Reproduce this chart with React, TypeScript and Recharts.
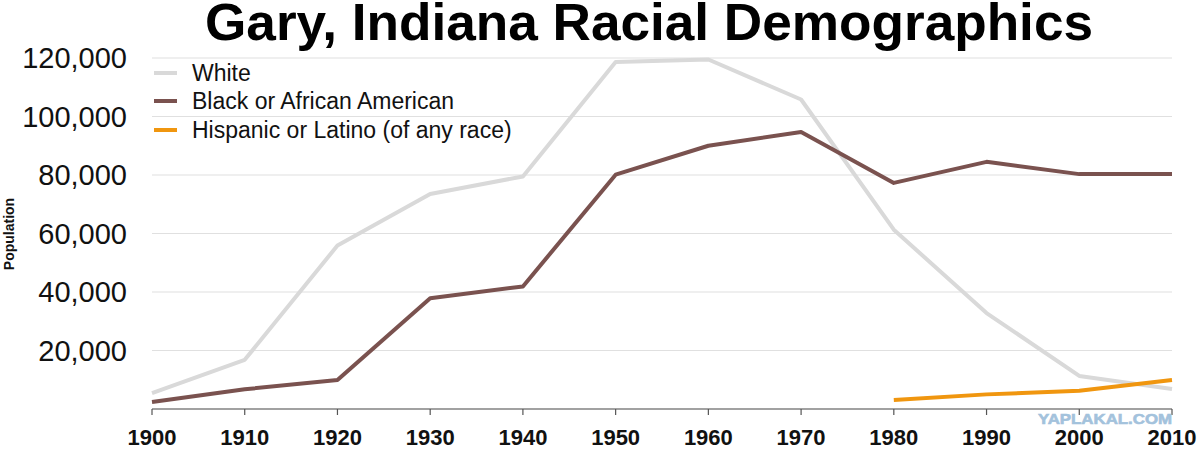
import React from 'react';
import { LineChart, Line, XAxis, YAxis, CartesianGrid } from 'recharts';

const years = [1900, 1910, 1920, 1930, 1940, 1950, 1960, 1970, 1980, 1990, 2000, 2010];
const white = [5400, 16800, 55900, 73500, 79500, 118600, 119500, 105800, 61300, 32800, 11300, 6850];
const black = [2400, 6750, 9900, 37900, 41900, 80100, 90000, 94700, 77300, 84500, 80300, 80300];
const hispanic = [null, null, null, null, null, null, null, null, 3100, 5000, 6250, 9900];
const yTicks = [20000, 40000, 60000, 80000, 100000, 120000];
const xTicks = years;

const seriesNames = ['White', 'Black or African American', 'Hispanic or Latino (of any race)'];
const seriesColors = ['#d9d9d9', '#7a524f', '#f0960f'];

const data = years.map((y, i) => ({
  year: y,
  white: white[i],
  black: black[i],
  hispanic: hispanic[i],
}));

const FONT = '"Liberation Sans", Arial, Helvetica, sans-serif';

const YTick = (props: any) => {
  const { x, y, payload } = props;
  return (
    <text x={x} y={y} dy="0.36em" textAnchor="end" fontSize={29} fontFamily={FONT} fill="#111">
      {payload.value.toLocaleString('en-US')}
    </text>
  );
};

const XTick = (props: any) => {
  const { x, y, payload } = props;
  return (
    <text x={x} y={y} dy={28} textAnchor="middle" fontSize={22} fontWeight="bold" fontFamily={FONT} fill="#111">
      {payload.value}
    </text>
  );
};

const LegendBox = () => (
  <div style={{ position: 'absolute', left: 154, top: 59, fontFamily: FONT, fontSize: 23, color: '#111', pointerEvents: 'none' }}>
    {seriesNames.map((n, i) => (
      <div key={n} style={{ display: 'flex', alignItems: 'center', height: 28.3, lineHeight: '28.3px', whiteSpace: 'nowrap' }}>
        <span style={{ display: 'inline-block', width: 23, height: 4, background: seriesColors[i], marginRight: 15 }} />
        <span>{n}</span>
      </div>
    ))}
  </div>
);

export default function App() {
  return (
    <div style={{ position: 'fixed', left: 0, top: 0, width: 1200, height: 449, background: '#fff' }}>
      <LineChart width={1200} height={449} data={data} margin={{ top: 58, right: 28, left: 0, bottom: 0 }}>
        <CartesianGrid horizontal vertical={false} stroke="#e0e0e0" strokeWidth={1.2} />
        <XAxis
          dataKey="year"
          type="number"
          domain={[1900, 2010]}
          ticks={xTicks}
          height={40}
          axisLine={{ stroke: '#555', strokeWidth: 1.2 }}
          tickLine={{ stroke: '#555', strokeWidth: 1.2 }}
          tickSize={6}
          tickMargin={2}
          tick={<XTick />}
          interval={0}
        />
        <YAxis
          type="number"
          domain={[0, 120000]}
          ticks={yTicks}
          width={152}
          axisLine={false}
          tickLine={false}
          tickSize={0}
          tickMargin={25}
          tick={<YTick />}
          interval={0}
        />
        <Line dataKey="white" name={seriesNames[0]} stroke={seriesColors[0]} strokeWidth={4} dot={false} isAnimationActive={false} strokeLinejoin="round" />
        <Line dataKey="black" name={seriesNames[1]} stroke={seriesColors[1]} strokeWidth={4} dot={false} isAnimationActive={false} strokeLinejoin="round" />
        <Line dataKey="hispanic" name={seriesNames[2]} stroke={seriesColors[2]} strokeWidth={4} dot={false} isAnimationActive={false} strokeLinejoin="round" />
      </LineChart>
      <LegendBox />
      <svg width={1200} height={449} style={{ position: 'absolute', left: 0, top: 0, pointerEvents: 'none' }}>
        <text x={649} y={40} textAnchor="middle" fontSize={52} fontWeight="bold" fontFamily={FONT} fill="#000" textLength={888} lengthAdjust="spacingAndGlyphs">
          Gary, Indiana Racial Demographics
        </text>
        <text x={9} y={234} transform="rotate(-90 9 234)" dy="0.35em" textAnchor="middle" fontSize={14} fontWeight="bold" fontFamily={FONT} fill="#111">
          Population
        </text>
        <text x={1038} y={424} fontSize={14} fontWeight="bold" fontFamily={FONT} fill="#a3c2dc" textLength={134} lengthAdjust="spacingAndGlyphs" stroke="#a3c2dc" strokeWidth={0.6}>
          YAPLAKAL.COM
        </text>
      </svg>
    </div>
  );
}
